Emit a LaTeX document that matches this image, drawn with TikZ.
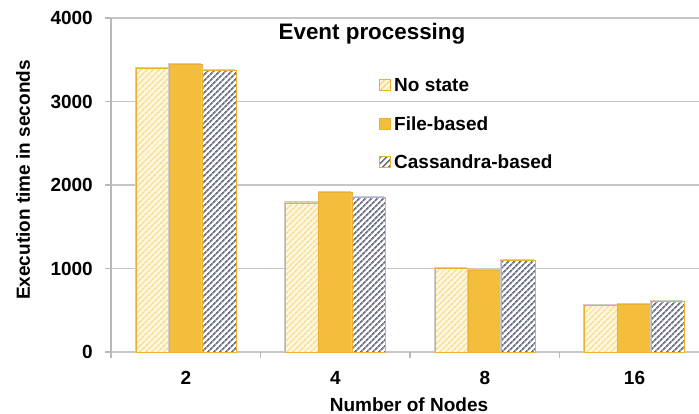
\documentclass[tikz,border=0pt]{standalone}
\usepackage{fontspec}
\setmainfont{Liberation Sans}
\usetikzlibrary{patterns.meta}
\definecolor{gridgray}{HTML}{C6C6C6}
\definecolor{axisgray}{HTML}{B8B8B8}
\definecolor{gold}{HTML}{EBB030}
\definecolor{goldfill}{HTML}{F2BE3B}
\definecolor{paleyellow}{HTML}{F7D98A}
\definecolor{paleback}{HTML}{FFF7E0}
\definecolor{slate}{HTML}{6C7288}
\begin{document}
\begin{tikzpicture}[x=1pt,y=1pt,
  lbl/.style={font=\fontsize{19}{22}\selectfont\bfseries, inner sep=0pt},
  ttl/.style={font=\fontsize{22.4}{26}\selectfont\bfseries, inner sep=0pt},
  gridline/.style={draw=gridgray, line width=1.6pt},
  axisline/.style={draw=axisgray, line width=1.2pt},
  shadow/.style={fill=black!20},
  nostate/.style={preaction={fill=paleback},
    pattern={Lines[angle=45,distance=4pt,line width=1.5pt]}, pattern color=paleyellow,
    draw=gold, line width=0.9pt},
  filebased/.style={fill=goldfill, draw=gold, line width=0.9pt},
  cassandra/.style={preaction={fill=white},
    pattern={Lines[angle=45,distance=4pt,line width=1.8pt]}, pattern color=slate,
    draw=gold, line width=0.9pt}]
\useasboundingbox (0,0) rectangle (699,414);

% value axis: 0 at y=62, 83.5 units per 1000 s
\def\vy#1{62+0.0835*#1}

% horizontal grid lines and y tick labels
\foreach \v in {1000,2000,3000,4000}
  \draw[gridline] (111,{\vy{\v}}) -- (699,{\vy{\v}});
\draw[gridline] (111,62) -- (699,62);
\foreach \v in {0,1000,2000,3000,4000} {
  \draw[axisline] (105,{\vy{\v}}) -- (111,{\vy{\v}});
  \node[lbl, anchor=east] (yt\v) at (93,{\vy{\v}}) {\v};
}
\draw[axisline] (111,56) -- (111,{\vy{4000}});

% category ticks and labels
\foreach \k in {1,2,3}
  \draw[axisline] ({111+149.5*\k},62) -- ({111+149.5*\k},56);
\foreach \lab [count=\k from 0] in {2,4,8,16}
  \node[lbl] (xt\lab) at ({186+149.5*\k},36.5) {\lab};

% bars: group index, bar index, value, style
\newcommand\drawbar[4]{%
  \pgfmathsetmacro\xa{136+149.5*#1+33.33*#2}%
  \pgfmathsetmacro\xb{\xa+33.33}%
  \fill[shadow] (\xa-1.2,62) rectangle (\xb-1.2,{\vy{#3}+1.5});
  \path[#4] (\xa,62) rectangle (\xb,{\vy{#3}});
}
\drawbar{0}{0}{3395}{nostate}
\drawbar{0}{1}{3445}{filebased}
\drawbar{0}{2}{3375}{cassandra}
\drawbar{1}{0}{1785}{nostate}
\drawbar{1}{1}{1915}{filebased}
\drawbar{1}{2}{1855}{cassandra}
\drawbar{2}{0}{1000}{nostate}
\drawbar{2}{1}{975}{filebased}
\drawbar{2}{2}{1095}{cassandra}
\drawbar{3}{0}{560}{nostate}
\drawbar{3}{1}{565}{filebased}
\drawbar{3}{2}{600}{cassandra}

% titles
\node[ttl, anchor=base] (title) at (372,374) {Event processing};
\node[lbl] (xtitle) at (409,9.5) {Number of Nodes};
\node[lbl, rotate=90] (ytitle) at (23,234) {Execution time in seconds};

% legend
\foreach \sty/\txt/\yy [count=\i] in {nostate/No state/329, filebased/File-based/290, cassandra/Cassandra-based/252} {
  \path[\sty, line width=0.7pt] (379,\yy-5.5) rectangle (390,\yy+5.5);
  \node[lbl, anchor=west] (leg\i) at (394,\yy) {\txt};
}
\end{tikzpicture}
\end{document}
